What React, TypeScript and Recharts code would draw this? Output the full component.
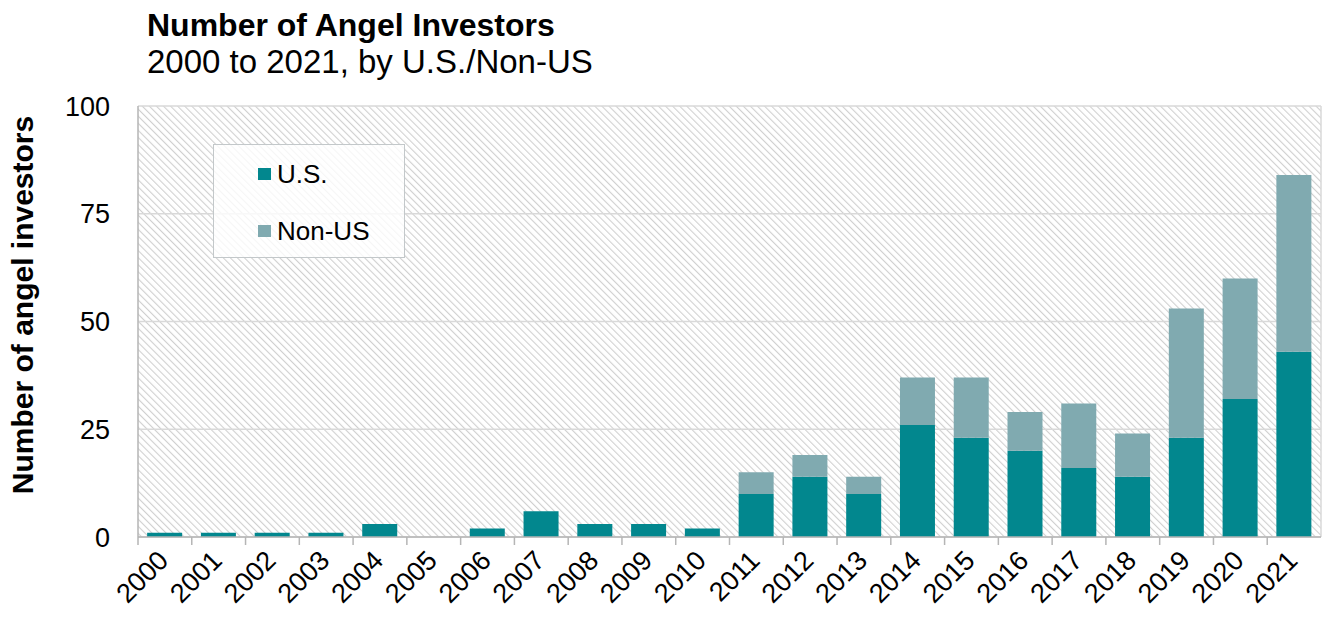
import { BarChart, Bar, XAxis, YAxis, CartesianGrid } from 'recharts'

const years = ['2000', '2001', '2002', '2003', '2004', '2005', '2006', '2007', '2008', '2009', '2010',
  '2011', '2012', '2013', '2014', '2015', '2016', '2017', '2018', '2019', '2020', '2021']
const usInvestors = [1, 1, 1, 1, 3, 0, 2, 6, 3, 3, 2, 10, 14, 10, 26, 23, 20, 16, 14, 23, 32, 43]
const nonUsInvestors = [0, 0, 0, 0, 0, 0, 0, 0, 0, 0, 0, 5, 5, 4, 11, 14, 9, 15, 10, 30, 28, 41]
const yTicks = [0, 25, 50, 75, 100]

const data = years.map((year, i) => ({ year, us: usInvestors[i], nonUs: nonUsInvestors[i] }))

const US_COLOR = '#02878e'
const NON_US_COLOR = '#80aab0'
const FONT = 'Liberation Sans, Arial, sans-serif'

const WIDTH = 1323
const HEIGHT = 620
const PLOT_LEFT = 138
const PLOT_RIGHT = 1321
const BAND = (PLOT_RIGHT - PLOT_LEFT) / years.length

// excel style: tick marks sit between the categories
function YearTick(props: any) {
  const { x, y, payload } = props
  const left = x - BAND / 2
  const ax = x + 5
  const ay = y + 17
  return (
    <g>
      <line x1={left} y1={y - 8} x2={left} y2={y} stroke="#b5b5b5" strokeWidth={1.5} />
      <text
        x={ax}
        y={ay}
        transform={`rotate(-45, ${ax}, ${ay})`}
        textAnchor="end"
        fontSize={27}
        fontFamily={FONT}
        fill="#000"
      >
        {payload.value}
      </text>
    </g>
  )
}

function LegendBox() {
  const items = [
    { label: 'U.S.', color: US_COLOR },
    { label: 'Non-US', color: NON_US_COLOR },
  ]
  return (
    <div
      style={{
        position: 'absolute',
        left: 213,
        top: 144,
        width: 192,
        height: 114,
        border: '1.5px solid #c3c8ca',
        background: 'rgba(255,255,255,0.8)',
        boxSizing: 'border-box',
        paddingTop: 13,
        paddingLeft: 44,
        fontFamily: FONT,
        fontSize: 26,
      }}
    >
      {items.map((it) => (
        <div key={it.label} style={{ display: 'flex', alignItems: 'center', height: 32, marginBottom: 25 }}>
          <span style={{ width: 13, height: 12, background: it.color, display: 'inline-block', marginRight: 6 }} />
          <span>{it.label}</span>
        </div>
      ))}
    </div>
  )
}

export default function App() {
  return (
    <div style={{ position: 'absolute', left: 0, top: 0, width: WIDTH, height: HEIGHT, background: '#fff' }}>
      <svg width={0} height={0} style={{ position: 'absolute' }}>
        <defs>
          <pattern id="hatch" patternUnits="userSpaceOnUse" width={5} height={5} patternTransform="rotate(-45)">
            <rect width={5} height={5} fill="#ffffff" />
            <line x1={0} y1={0} x2={0} y2={5} stroke="#d0d0d0" strokeWidth={2.2} />
          </pattern>
        </defs>
      </svg>
      <svg width={WIDTH} height={100} style={{ position: 'absolute', left: 0, top: 0 }}>
        <text x={147} y={36} fontFamily={FONT} fontSize={32} fontWeight={700} fill="#000">
          Number of Angel Investors
        </text>
        <text x={147} y={73} fontFamily={FONT} fontSize={33} fill="#000">
          2000 to 2021, by U.S./Non-US
        </text>
      </svg>
      <BarChart
        width={WIDTH}
        height={HEIGHT}
        data={data}
        margin={{ top: 106, right: WIDTH - PLOT_RIGHT, left: 0, bottom: 0 }}
        barCategoryGap="17%"
        style={{ position: 'absolute', left: 0, top: 0 }}
      >
        <CartesianGrid
          stroke="#d9d9d9"
          strokeWidth={1.5}
          fill="url(#hatch)"
          fillOpacity={1}
          vertical={true}
          verticalPoints={[PLOT_RIGHT]}
        />
        <XAxis
          dataKey="year"
          interval={0}
          height={83}
          tickLine={false}
          axisLine={{ stroke: '#b5b5b5', strokeWidth: 1.5 }}
          tick={<YearTick />}
        />
        <YAxis
          domain={[0, 100]}
          ticks={yTicks}
          width={PLOT_LEFT}
          tickLine={false}
          tickSize={0}
          tickMargin={28}
          axisLine={{ stroke: '#b5b5b5', strokeWidth: 1.5 }}
          tick={{ fontSize: 27, fontFamily: FONT, fill: '#000' }}
          label={{
            content: () => {
              const cx = 22
              const cy = 305
              return (
                <text
                  x={cx}
                  y={cy}
                  transform={`rotate(-90, ${cx}, ${cy})`}
                  textAnchor="middle"
                  dominantBaseline="central"
                  fontSize={30}
                  fontWeight={700}
                  fontFamily={FONT}
                  fill="#000"
                >
                  Number of angel investors
                </text>
              )
            },
          }}
        />
        <Bar dataKey="us" name="U.S." stackId="a" fill={US_COLOR} isAnimationActive={false} />
        <Bar dataKey="nonUs" name="Non-US" stackId="a" fill={NON_US_COLOR} isAnimationActive={false} />
      </BarChart>
      <LegendBox />
    </div>
  )
}
